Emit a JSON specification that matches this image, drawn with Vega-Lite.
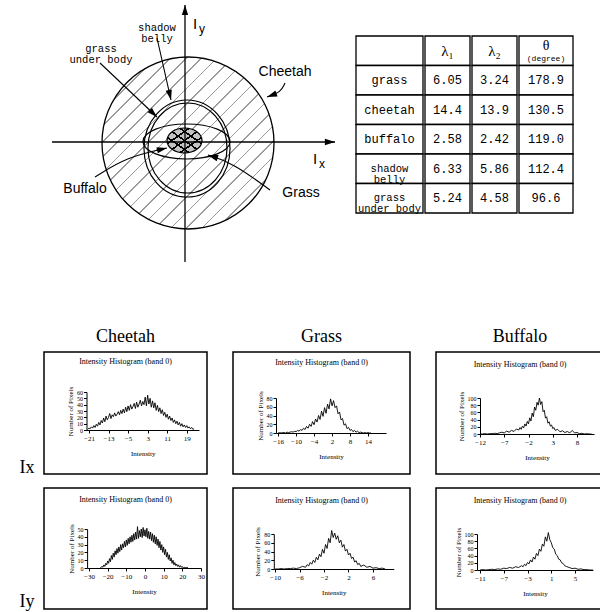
{
"$schema": "https://vega.github.io/schema/vega-lite/v6.json",
"background": "white",
"padding": 0,
"config": {
  "view": {"stroke": null},
  "axis": {"grid": false, "domainColor": "black", "tickColor": "black", "labelColor": "black", "titleColor": "black", "labelFont": "Liberation Serif", "titleFont": "Liberation Serif", "labelFontSize": 7, "titleFontSize": 7, "titleFontWeight": "normal", "tickSize": 3, "labelPadding": 1, "domainWidth": 1, "tickWidth": 1, "labelFlush": false, "labelOverlap": false, "labelBound": false},
  "axisY": {"labelFontSize": 6},
  "title": {"color": "black", "fontWeight": "normal", "font": "Liberation Serif"}
},
"datasets": {
  "cells": [
    {"row": "header", "col": "name", "label": ""},
    {"row": "header", "col": "l1", "label": "λ₁"},
    {"row": "header", "col": "l2", "label": "λ₂"},
    {"row": "header", "col": "theta", "label": "θ", "sub": "(degree)"},
    {"row": "grass", "col": "name", "label": "grass"},
    {"row": "grass", "col": "l1", "label": "6.05"},
    {"row": "grass", "col": "l2", "label": "3.24"},
    {"row": "grass", "col": "theta", "label": "178.9"},
    {"row": "cheetah", "col": "name", "label": "cheetah"},
    {"row": "cheetah", "col": "l1", "label": "14.4"},
    {"row": "cheetah", "col": "l2", "label": "13.9"},
    {"row": "cheetah", "col": "theta", "label": "130.5"},
    {"row": "buffalo", "col": "name", "label": "buffalo"},
    {"row": "buffalo", "col": "l1", "label": "2.58"},
    {"row": "buffalo", "col": "l2", "label": "2.42"},
    {"row": "buffalo", "col": "theta", "label": "119.0"},
    {"row": "shadow belly", "col": "name", "label": "shadow\nbelly"},
    {"row": "shadow belly", "col": "l1", "label": "6.33"},
    {"row": "shadow belly", "col": "l2", "label": "5.86"},
    {"row": "shadow belly", "col": "theta", "label": "112.4"},
    {"row": "grass under body", "col": "name", "label": "grass\nunder body"},
    {"row": "grass under body", "col": "l1", "label": "5.24"},
    {"row": "grass under body", "col": "l2", "label": "4.58"},
    {"row": "grass under body", "col": "theta", "label": "96.6"}
  ],
  "hc_x": [
    {"i":-21.5,"n":1},{"i":-21,"n":3},{"i":-20.5,"n":2},{"i":-20,"n":5},{"i":-19.5,"n":3},{"i":-19,"n":7},{"i":-18.5,"n":4},{"i":-18,"n":9},{"i":-17.5,"n":6},{"i":-17,"n":12},{"i":-16.5,"n":8},{"i":-16,"n":15},{"i":-15.5,"n":11},{"i":-15,"n":19},{"i":-14.5,"n":13},{"i":-14,"n":22},{"i":-13.5,"n":16},{"i":-13,"n":20},{"i":-12.5,"n":26},{"i":-12,"n":18},{"i":-11.5,"n":24},{"i":-11,"n":21},{"i":-10.5,"n":27},{"i":-10,"n":22},{"i":-9.5,"n":25},{"i":-9,"n":29},{"i":-8.5,"n":24},{"i":-8,"n":31},{"i":-7.5,"n":26},{"i":-7,"n":33},{"i":-6.5,"n":27},{"i":-6,"n":36},{"i":-5.5,"n":29},{"i":-5,"n":38},{"i":-4.5,"n":31},{"i":-4,"n":40},{"i":-3.5,"n":33},{"i":-3,"n":37},{"i":-2.5,"n":42},{"i":-2,"n":34},{"i":-1.5,"n":44},{"i":-1,"n":36},{"i":-0.5,"n":41},{"i":0,"n":47},{"i":0.5,"n":38},{"i":1,"n":45},{"i":1.5,"n":40},{"i":2,"n":52},{"i":2.5,"n":38},{"i":3,"n":55},{"i":3.5,"n":41},{"i":4,"n":50},{"i":4.5,"n":36},{"i":5,"n":46},{"i":5.5,"n":35},{"i":6,"n":43},{"i":6.5,"n":31},{"i":7,"n":39},{"i":7.5,"n":29},{"i":8,"n":35},{"i":8.5,"n":26},{"i":9,"n":32},{"i":9.5,"n":23},{"i":10,"n":28},{"i":10.5,"n":20},{"i":11,"n":25},{"i":11.5,"n":17},{"i":12,"n":22},{"i":12.5,"n":15},{"i":13,"n":19},{"i":13.5,"n":12},{"i":14,"n":16},{"i":14.5,"n":10},{"i":15,"n":14},{"i":15.5,"n":8},{"i":16,"n":12},{"i":16.5,"n":6},{"i":17,"n":10},{"i":17.5,"n":5},{"i":18,"n":8},{"i":18.5,"n":4},{"i":19,"n":7},{"i":19.5,"n":3},{"i":20,"n":5},{"i":20.5,"n":2},{"i":21,"n":4},{"i":21.5,"n":1},{"i":22,"n":2}
  ],
  "hg_x": [
    {"i":-16,"n":0},{"i":-15.5,"n":1},{"i":-15,"n":0},{"i":-14.5,"n":1},{"i":-14,"n":1},{"i":-13.5,"n":0},{"i":-13,"n":2},{"i":-12.5,"n":1},{"i":-12,"n":2},{"i":-11.5,"n":3},{"i":-11,"n":2},{"i":-10.5,"n":4},{"i":-10,"n":3},{"i":-9.5,"n":6},{"i":-9,"n":4},{"i":-8.5,"n":8},{"i":-8,"n":6},{"i":-7.5,"n":11},{"i":-7,"n":8},{"i":-6.5,"n":15},{"i":-6,"n":11},{"i":-5.5,"n":20},{"i":-5,"n":15},{"i":-4.5,"n":26},{"i":-4,"n":19},{"i":-3.5,"n":32},{"i":-3,"n":25},{"i":-2.5,"n":40},{"i":-2,"n":31},{"i":-1.5,"n":50},{"i":-1,"n":38},{"i":-0.5,"n":58},{"i":0,"n":45},{"i":0.5,"n":66},{"i":1,"n":55},{"i":1.5,"n":78},{"i":2,"n":62},{"i":2.5,"n":74},{"i":3,"n":58},{"i":3.5,"n":62},{"i":4,"n":44},{"i":4.5,"n":48},{"i":5,"n":30},{"i":5.5,"n":33},{"i":6,"n":18},{"i":6.5,"n":21},{"i":7,"n":10},{"i":7.5,"n":13},{"i":8,"n":6},{"i":8.5,"n":8},{"i":9,"n":3},{"i":9.5,"n":6},{"i":10,"n":2},{"i":10.5,"n":4},{"i":11,"n":1},{"i":11.5,"n":2},{"i":12,"n":1},{"i":12.5,"n":0},{"i":13,"n":1},{"i":13.5,"n":0},{"i":14,"n":1},{"i":14.5,"n":0},{"i":15,"n":0}
  ],
  "hb_x": [
    {"i":-12,"n":0},{"i":-11.5,"n":0},{"i":-11,"n":1},{"i":-10.5,"n":0},{"i":-10,"n":1},{"i":-9.5,"n":1},{"i":-9,"n":2},{"i":-8.5,"n":1},{"i":-8,"n":3},{"i":-7.5,"n":5},{"i":-7,"n":3},{"i":-6.5,"n":8},{"i":-6,"n":5},{"i":-5.5,"n":10},{"i":-5,"n":7},{"i":-4.5,"n":14},{"i":-4,"n":11},{"i":-3.75,"n":18},{"i":-3.5,"n":13},{"i":-3.25,"n":22},{"i":-3,"n":17},{"i":-2.75,"n":28},{"i":-2.5,"n":22},{"i":-2.25,"n":35},{"i":-2,"n":28},{"i":-1.75,"n":45},{"i":-1.5,"n":36},{"i":-1.25,"n":58},{"i":-1,"n":48},{"i":-0.75,"n":75},{"i":-0.5,"n":66},{"i":-0.25,"n":88},{"i":0,"n":80},{"i":0.25,"n":100},{"i":0.5,"n":82},{"i":0.75,"n":90},{"i":1,"n":62},{"i":1.25,"n":66},{"i":1.5,"n":44},{"i":1.75,"n":48},{"i":2,"n":30},{"i":2.25,"n":34},{"i":2.5,"n":22},{"i":2.75,"n":25},{"i":3,"n":15},{"i":3.25,"n":18},{"i":3.5,"n":10},{"i":4,"n":13},{"i":4.5,"n":6},{"i":5,"n":9},{"i":5.5,"n":4},{"i":6,"n":7},{"i":6.5,"n":3},{"i":7,"n":10},{"i":7.5,"n":3},{"i":8,"n":4},{"i":8.5,"n":1},{"i":9,"n":2},{"i":9.5,"n":0},{"i":10,"n":1},{"i":10.5,"n":0},{"i":11,"n":0}
  ],
  "hc_y": [
    {"i":-24,"n":0},{"i":-23.5,"n":1},{"i":-23,"n":2},{"i":-22.5,"n":1},{"i":-22,"n":4},{"i":-21.5,"n":2},{"i":-21,"n":6},{"i":-20.5,"n":4},{"i":-20,"n":9},{"i":-19.5,"n":6},{"i":-19,"n":12},{"i":-18.5,"n":8},{"i":-18,"n":16},{"i":-17.5,"n":11},{"i":-17,"n":19},{"i":-16.5,"n":14},{"i":-16,"n":22},{"i":-15.5,"n":17},{"i":-15,"n":25},{"i":-14.5,"n":19},{"i":-14,"n":27},{"i":-13.5,"n":21},{"i":-13,"n":30},{"i":-12.5,"n":23},{"i":-12,"n":31},{"i":-11.5,"n":26},{"i":-11,"n":34},{"i":-10.5,"n":27},{"i":-10,"n":36},{"i":-9.5,"n":29},{"i":-9,"n":38},{"i":-8.5,"n":31},{"i":-8,"n":40},{"i":-7.5,"n":33},{"i":-7,"n":42},{"i":-6.5,"n":34},{"i":-6,"n":44},{"i":-5.5,"n":36},{"i":-5,"n":46},{"i":-4.5,"n":37},{"i":-4,"n":53},{"i":-3.5,"n":38},{"i":-3,"n":48},{"i":-2.5,"n":40},{"i":-2,"n":50},{"i":-1.5,"n":39},{"i":-1,"n":52},{"i":-0.5,"n":41},{"i":0,"n":49},{"i":0.5,"n":40},{"i":1,"n":51},{"i":1.5,"n":38},{"i":2,"n":47},{"i":2.5,"n":37},{"i":3,"n":46},{"i":3.5,"n":35},{"i":4,"n":44},{"i":4.5,"n":33},{"i":5,"n":42},{"i":5.5,"n":31},{"i":6,"n":40},{"i":6.5,"n":29},{"i":7,"n":37},{"i":7.5,"n":26},{"i":8,"n":34},{"i":8.5,"n":23},{"i":9,"n":30},{"i":9.5,"n":20},{"i":10,"n":27},{"i":10.5,"n":17},{"i":11,"n":24},{"i":11.5,"n":14},{"i":12,"n":20},{"i":12.5,"n":11},{"i":13,"n":17},{"i":13.5,"n":9},{"i":14,"n":13},{"i":14.5,"n":6},{"i":15,"n":10},{"i":15.5,"n":4},{"i":16,"n":7},{"i":16.5,"n":3},{"i":17,"n":5},{"i":17.5,"n":2},{"i":18,"n":4},{"i":18.5,"n":1},{"i":19,"n":3},{"i":19.5,"n":1},{"i":20,"n":2},{"i":20.5,"n":0},{"i":21,"n":1},{"i":21.5,"n":0},{"i":22,"n":1},{"i":22.5,"n":0},{"i":23,"n":1}
  ],
  "hg_y": [
    {"i":-10,"n":0},{"i":-9.5,"n":0},{"i":-9,"n":1},{"i":-8.5,"n":0},{"i":-8,"n":1},{"i":-7.5,"n":1},{"i":-7,"n":2},{"i":-6.5,"n":1},{"i":-6,"n":3},{"i":-5.5,"n":6},{"i":-5,"n":4},{"i":-4.75,"n":10},{"i":-4.5,"n":7},{"i":-4.25,"n":15},{"i":-4,"n":11},{"i":-3.75,"n":20},{"i":-3.5,"n":15},{"i":-3.25,"n":27},{"i":-3,"n":21},{"i":-2.75,"n":34},{"i":-2.5,"n":28},{"i":-2.25,"n":45},{"i":-2,"n":36},{"i":-1.75,"n":56},{"i":-1.5,"n":47},{"i":-1.25,"n":70},{"i":-1,"n":60},{"i":-0.75,"n":88},{"i":-0.5,"n":72},{"i":-0.25,"n":82},{"i":0,"n":68},{"i":0.25,"n":76},{"i":0.5,"n":60},{"i":0.75,"n":66},{"i":1,"n":50},{"i":1.25,"n":56},{"i":1.5,"n":41},{"i":1.75,"n":45},{"i":2,"n":32},{"i":2.25,"n":36},{"i":2.5,"n":24},{"i":2.75,"n":27},{"i":3,"n":16},{"i":3.25,"n":19},{"i":3.5,"n":10},{"i":3.75,"n":13},{"i":4,"n":6},{"i":4.5,"n":9},{"i":5,"n":4},{"i":5.5,"n":6},{"i":6,"n":2},{"i":6.5,"n":3},{"i":7,"n":1},{"i":7.5,"n":2},{"i":8,"n":0}
  ],
  "hb_y": [
    {"i":-11,"n":0},{"i":-10.5,"n":1},{"i":-10,"n":0},{"i":-9.5,"n":1},{"i":-9,"n":2},{"i":-8.5,"n":1},{"i":-8,"n":3},{"i":-7.5,"n":2},{"i":-7,"n":5},{"i":-6.5,"n":4},{"i":-6,"n":7},{"i":-5.5,"n":5},{"i":-5,"n":9},{"i":-4.5,"n":7},{"i":-4,"n":12},{"i":-3.75,"n":9},{"i":-3.5,"n":16},{"i":-3.25,"n":12},{"i":-3,"n":21},{"i":-2.75,"n":17},{"i":-2.5,"n":28},{"i":-2.25,"n":22},{"i":-2,"n":36},{"i":-1.75,"n":30},{"i":-1.5,"n":46},{"i":-1.25,"n":40},{"i":-1,"n":58},{"i":-0.75,"n":52},{"i":-0.5,"n":72},{"i":-0.25,"n":66},{"i":0,"n":92},{"i":0.25,"n":80},{"i":0.5,"n":104},{"i":0.75,"n":84},{"i":1,"n":76},{"i":1.25,"n":62},{"i":1.5,"n":58},{"i":1.75,"n":44},{"i":2,"n":40},{"i":2.25,"n":30},{"i":2.5,"n":28},{"i":2.75,"n":20},{"i":3,"n":18},{"i":3.25,"n":12},{"i":3.5,"n":10},{"i":4,"n":7},{"i":4.5,"n":4},{"i":5,"n":5},{"i":5.5,"n":2},{"i":6,"n":3},{"i":6.5,"n":1},{"i":7,"n":1},{"i":7.5,"n":0},{"i":8,"n":0}
  ]
},
"spacing": 58,
"vconcat": [
  {"spacing": 0, "hconcat": [
    {
      "width": 355, "height": 270,
      "view": {"stroke": null},
      "encoding": {
        "x": {"field": "x", "type": "quantitative", "scale": {"domain": [-185, 170], "nice": false, "zero": false}, "axis": null},
        "y": {"field": "y", "type": "quantitative", "scale": {"domain": [-128, 142], "nice": false, "zero": false}, "axis": null}
      },
      "layer": [
        {
          "data": {"values": [{"name": "cheetah", "x": 3, "y": -1, "r": 86}]},
          "mark": {"type": "point", "shape": "circle", "filled": true, "opacity": 1, "stroke": "black", "strokeWidth": 1.3,
            "fill": {"gradient": "linear", "x1": 0, "y1": 0, "x2": 1, "y2": 1, "stops": [
              {"offset": 0, "color": "white"},
              {"offset": 0.02, "color": "white"}, {"offset": 0.02, "color": "#9a9a9a"}, {"offset": 0.025, "color": "#9a9a9a"}, {"offset": 0.025, "color": "white"},
              {"offset": 0.065, "color": "white"}, {"offset": 0.065, "color": "#9a9a9a"}, {"offset": 0.07, "color": "#9a9a9a"}, {"offset": 0.07, "color": "white"},
              {"offset": 0.11, "color": "white"}, {"offset": 0.11, "color": "#9a9a9a"}, {"offset": 0.115, "color": "#9a9a9a"}, {"offset": 0.115, "color": "white"},
              {"offset": 0.155, "color": "white"}, {"offset": 0.155, "color": "#9a9a9a"}, {"offset": 0.16, "color": "#9a9a9a"}, {"offset": 0.16, "color": "white"},
              {"offset": 0.2, "color": "white"}, {"offset": 0.2, "color": "#9a9a9a"}, {"offset": 0.205, "color": "#9a9a9a"}, {"offset": 0.205, "color": "white"},
              {"offset": 0.245, "color": "white"}, {"offset": 0.245, "color": "#9a9a9a"}, {"offset": 0.25, "color": "#9a9a9a"}, {"offset": 0.25, "color": "white"},
              {"offset": 0.29, "color": "white"}, {"offset": 0.29, "color": "#9a9a9a"}, {"offset": 0.295, "color": "#9a9a9a"}, {"offset": 0.295, "color": "white"},
              {"offset": 0.335, "color": "white"}, {"offset": 0.335, "color": "#9a9a9a"}, {"offset": 0.34, "color": "#9a9a9a"}, {"offset": 0.34, "color": "white"},
              {"offset": 0.38, "color": "white"}, {"offset": 0.38, "color": "#9a9a9a"}, {"offset": 0.385, "color": "#9a9a9a"}, {"offset": 0.385, "color": "white"},
              {"offset": 0.425, "color": "white"}, {"offset": 0.425, "color": "#9a9a9a"}, {"offset": 0.43, "color": "#9a9a9a"}, {"offset": 0.43, "color": "white"},
              {"offset": 0.47, "color": "white"}, {"offset": 0.47, "color": "#9a9a9a"}, {"offset": 0.475, "color": "#9a9a9a"}, {"offset": 0.475, "color": "white"},
              {"offset": 0.515, "color": "white"}, {"offset": 0.515, "color": "#9a9a9a"}, {"offset": 0.52, "color": "#9a9a9a"}, {"offset": 0.52, "color": "white"},
              {"offset": 0.56, "color": "white"}, {"offset": 0.56, "color": "#9a9a9a"}, {"offset": 0.565, "color": "#9a9a9a"}, {"offset": 0.565, "color": "white"},
              {"offset": 0.605, "color": "white"}, {"offset": 0.605, "color": "#9a9a9a"}, {"offset": 0.61, "color": "#9a9a9a"}, {"offset": 0.61, "color": "white"},
              {"offset": 0.65, "color": "white"}, {"offset": 0.65, "color": "#9a9a9a"}, {"offset": 0.655, "color": "#9a9a9a"}, {"offset": 0.655, "color": "white"},
              {"offset": 0.695, "color": "white"}, {"offset": 0.695, "color": "#9a9a9a"}, {"offset": 0.7, "color": "#9a9a9a"}, {"offset": 0.7, "color": "white"},
              {"offset": 0.74, "color": "white"}, {"offset": 0.74, "color": "#9a9a9a"}, {"offset": 0.745, "color": "#9a9a9a"}, {"offset": 0.745, "color": "white"},
              {"offset": 0.785, "color": "white"}, {"offset": 0.785, "color": "#9a9a9a"}, {"offset": 0.79, "color": "#9a9a9a"}, {"offset": 0.79, "color": "white"},
              {"offset": 0.83, "color": "white"}, {"offset": 0.83, "color": "#9a9a9a"}, {"offset": 0.835, "color": "#9a9a9a"}, {"offset": 0.835, "color": "white"},
              {"offset": 0.875, "color": "white"}, {"offset": 0.875, "color": "#9a9a9a"}, {"offset": 0.88, "color": "#9a9a9a"}, {"offset": 0.88, "color": "white"},
              {"offset": 0.92, "color": "white"}, {"offset": 0.92, "color": "#9a9a9a"}, {"offset": 0.925, "color": "#9a9a9a"}, {"offset": 0.925, "color": "white"},
              {"offset": 0.965, "color": "white"}, {"offset": 0.965, "color": "#9a9a9a"}, {"offset": 0.97, "color": "#9a9a9a"}, {"offset": 0.97, "color": "white"},
              {"offset": 1, "color": "white"}
            ]}},
          "encoding": {"size": {"field": "r", "type": "quantitative", "scale": {"type": "pow", "exponent": 2, "domain": [0, 100], "range": [0, 40000]}, "legend": null}}
        },
        {
          "data": {"values": [{"name": "shadow belly", "x": 2, "y": -6.5, "r": 48.5}]},
          "mark": {"type": "point", "shape": "M0,-1A0.887,1,0,0,1,0,1A0.887,1,0,0,1,0,-1Z", "filled": false, "opacity": 1, "stroke": "black", "strokeWidth": 1.2},
          "encoding": {"size": {"field": "r", "type": "quantitative", "scale": {"type": "pow", "exponent": 2, "domain": [0, 100], "range": [0, 40000]}, "legend": null}}
        },
        {
          "data": {"values": [{"name": "grass under body", "x": 2.5, "y": -6, "r": 45}]},
          "mark": {"type": "point", "shape": "M0,-1A0.878,1,0,0,1,0,1A0.878,1,0,0,1,0,-1Z", "filled": false, "opacity": 1, "stroke": "black", "strokeWidth": 1.2},
          "encoding": {"size": {"field": "r", "type": "quantitative", "scale": {"type": "pow", "exponent": 2, "domain": [0, 100], "range": [0, 40000]}, "legend": null}}
        },
        {
          "data": {"values": [{"name": "grass", "x": 1.5, "y": 0.5, "r": 43.5}]},
          "mark": {"type": "point", "shape": "M-1,0A1,0.402,0,0,1,1,0A1,0.402,0,0,1,-1,0Z", "filled": false, "opacity": 1, "stroke": "black", "strokeWidth": 1.2},
          "encoding": {"size": {"field": "r", "type": "quantitative", "scale": {"type": "pow", "exponent": 2, "domain": [0, 100], "range": [0, 40000]}, "legend": null}}
        },
        {
          "data": {"values": [{"name": "buffalo", "x": -0.5, "y": 1.5, "r": 17.5}]},
          "mark": {"type": "point", "shape": "M-1,0A1,0.714,0,0,1,1,0A1,0.714,0,0,1,-1,0Z", "filled": true, "opacity": 1, "fill": "#c4c4c4", "stroke": "black", "strokeWidth": 1.2},
          "encoding": {"size": {"field": "r", "type": "quantitative", "scale": {"type": "pow", "exponent": 2, "domain": [0, 100], "range": [0, 40000]}, "legend": null}}
        },
        {
          "data": {"values": [{"name": "buffalo", "x": -0.5, "y": 1.5, "r": 17.5}]},
          "mark": {"type": "point", "shape": "M-1,0A1,0.714,0,0,1,1,0A1,0.714,0,0,1,-1,0Z", "filled": true, "opacity": 1, "strokeWidth": 0,
            "fill": {"gradient": "linear", "x1": 0, "y1": 0, "x2": 1, "y2": 1, "stops": [
              {"offset": 0, "color": "transparent"},
              {"offset": 0.12, "color": "transparent"}, {"offset": 0.12, "color": "black"}, {"offset": 0.16, "color": "black"}, {"offset": 0.16, "color": "transparent"},
              {"offset": 0.3, "color": "transparent"}, {"offset": 0.3, "color": "black"}, {"offset": 0.34, "color": "black"}, {"offset": 0.34, "color": "transparent"},
              {"offset": 0.48, "color": "transparent"}, {"offset": 0.48, "color": "black"}, {"offset": 0.52, "color": "black"}, {"offset": 0.52, "color": "transparent"},
              {"offset": 0.66, "color": "transparent"}, {"offset": 0.66, "color": "black"}, {"offset": 0.7, "color": "black"}, {"offset": 0.7, "color": "transparent"},
              {"offset": 0.84, "color": "transparent"}, {"offset": 0.84, "color": "black"}, {"offset": 0.88, "color": "black"}, {"offset": 0.88, "color": "transparent"},
              {"offset": 1, "color": "transparent"}
            ]}},
          "encoding": {"size": {"field": "r", "type": "quantitative", "scale": {"type": "pow", "exponent": 2, "domain": [0, 100], "range": [0, 40000]}, "legend": null}}
        },
        {
          "data": {"values": [{"name": "buffalo", "x": -0.5, "y": 1.5, "r": 17.5}]},
          "mark": {"type": "point", "shape": "M-1,0A1,0.714,0,0,1,1,0A1,0.714,0,0,1,-1,0Z", "filled": true, "opacity": 1, "strokeWidth": 0,
            "fill": {"gradient": "linear", "x1": 1, "y1": 0, "x2": 0, "y2": 1, "stops": [
              {"offset": 0, "color": "transparent"},
              {"offset": 0.12, "color": "transparent"}, {"offset": 0.12, "color": "black"}, {"offset": 0.16, "color": "black"}, {"offset": 0.16, "color": "transparent"},
              {"offset": 0.3, "color": "transparent"}, {"offset": 0.3, "color": "black"}, {"offset": 0.34, "color": "black"}, {"offset": 0.34, "color": "transparent"},
              {"offset": 0.48, "color": "transparent"}, {"offset": 0.48, "color": "black"}, {"offset": 0.52, "color": "black"}, {"offset": 0.52, "color": "transparent"},
              {"offset": 0.66, "color": "transparent"}, {"offset": 0.66, "color": "black"}, {"offset": 0.7, "color": "black"}, {"offset": 0.7, "color": "transparent"},
              {"offset": 0.84, "color": "transparent"}, {"offset": 0.84, "color": "black"}, {"offset": 0.88, "color": "black"}, {"offset": 0.88, "color": "transparent"},
              {"offset": 1, "color": "transparent"}
            ]}},
          "encoding": {"size": {"field": "r", "type": "quantitative", "scale": {"type": "pow", "exponent": 2, "domain": [0, 100], "range": [0, 40000]}, "legend": null}}
        },
        {
          "data": {"values": [{"x": -133, "y": 0, "x2": 150, "y2": 0}, {"x": 0, "y": -120, "x2": 0, "y2": 137}]},
          "mark": {"type": "rule", "color": "black", "strokeWidth": 1.3},
          "encoding": {"x2": {"field": "x2"}, "y2": {"field": "y2"}}
        },
        {
          "data": {"values": [
            {"arrow": "sb", "k": 0, "x": -28, "y": 104}, {"arrow": "sb", "k": 1, "x": -14, "y": 42},
            {"arrow": "gu", "k": 0, "x": -85, "y": 79}, {"arrow": "gu", "k": 1, "x": -28, "y": 25},
            {"arrow": "ch", "k": 0, "x": 100, "y": 59}, {"arrow": "ch", "k": 1, "x": 96, "y": 50}, {"arrow": "ch", "k": 2, "x": 82, "y": 45},
            {"arrow": "bu", "k": 0, "x": -90, "y": -35}, {"arrow": "bu", "k": 1, "x": -58, "y": -15}, {"arrow": "bu", "k": 2, "x": -18, "y": -6},
            {"arrow": "gr", "k": 0, "x": 85, "y": -48}, {"arrow": "gr", "k": 1, "x": 48, "y": -21}, {"arrow": "gr", "k": 2, "x": 23, "y": -13}
          ]},
          "mark": {"type": "line", "color": "black", "strokeWidth": 1.1, "interpolate": "basis"},
          "encoding": {"detail": {"field": "arrow", "type": "nominal"}, "order": {"field": "k", "type": "quantitative"}}
        },
        {
          "data": {"values": [
            {"x": 150, "y": 0, "heading": 90}, {"x": 0, "y": 137, "heading": 0},
            {"x": -14, "y": 42, "heading": 167}, {"x": -28, "y": 25, "heading": 134},
            {"x": 82, "y": 45, "heading": 250}, {"x": -18, "y": -6, "heading": 77}, {"x": 23, "y": -13, "heading": 288}
          ]},
          "mark": {"type": "point", "shape": "M0,0L0.5,1.6L-0.5,1.6Z", "size": 160, "filled": true, "opacity": 1, "color": "black"},
          "encoding": {"angle": {"field": "heading", "type": "quantitative", "scale": null}}
        },
        {
          "data": {"values": [{"label": "Cheetah", "x": 100, "y": 70}, {"label": "Buffalo", "x": -100, "y": -47}, {"label": "Grass", "x": 116, "y": -51}]},
          "mark": {"type": "text", "font": "Liberation Sans", "fontSize": 14, "color": "black"},
          "encoding": {"text": {"field": "label"}}
        },
        {
          "data": {"values": [{"label": "I", "x": 10, "y": 118}, {"label": "I", "x": 130, "y": -17}]},
          "mark": {"type": "text", "font": "Liberation Sans", "fontSize": 15, "color": "black"},
          "encoding": {"text": {"field": "label"}}
        },
        {
          "data": {"values": [{"label": "y", "x": 17, "y": 113}, {"label": "x", "x": 137, "y": -22}]},
          "mark": {"type": "text", "font": "Liberation Sans", "fontSize": 12, "color": "black"},
          "encoding": {"text": {"field": "label"}}
        },
        {
          "data": {"values": [{"label": "shadow\nbelly", "x": -28, "y": 114}, {"label": "grass\nunder body", "x": -84, "y": 93}]},
          "mark": {"type": "text", "font": "Liberation Mono", "fontSize": 10.5, "lineBreak": "\n", "lineHeight": 11, "color": "black"},
          "encoding": {"text": {"field": "label"}}
        }
      ]
    },
    {
      "width": 67, "height": 213, "view": {"stroke": null},
      "data": {"name": "cells"},
      "transform": [{"filter": "datum.col == 'name'"}],
      "encoding": {
        "x": {"field": "col", "type": "nominal", "axis": null, "scale": {"paddingInner": 0, "paddingOuter": 0}},
        "y": {"field": "row", "type": "nominal", "axis": null, "scale": {"domain": ["header", "grass", "cheetah", "buffalo", "shadow belly", "grass under body"], "range": [36, 213], "paddingInner": 0, "paddingOuter": 0}}
      },
      "layer": [
        {"mark": {"type": "rect", "fill": "white", "stroke": "black", "strokeWidth": 1.3}},
        {"transform": [{"filter": "datum.row == 'grass' || datum.row == 'cheetah' || datum.row == 'buffalo'"}], "mark": {"type": "text", "font": "Liberation Mono", "fontSize": 12, "color": "black"}, "encoding": {"text": {"field": "label"}}},
        {"transform": [{"filter": "datum.row == 'shadow belly' || datum.row == 'grass under body'"}], "mark": {"type": "text", "font": "Liberation Mono", "fontSize": 10.5, "lineBreak": "\n", "lineHeight": 11, "color": "black"}, "encoding": {"text": {"field": "label"}}}
      ]
    },
    {
      "width": 45, "height": 213, "view": {"stroke": null},
      "data": {"name": "cells"},
      "transform": [{"filter": "datum.col == 'l1'"}],
      "encoding": {
        "x": {"field": "col", "type": "nominal", "axis": null, "scale": {"paddingInner": 0, "paddingOuter": 0}},
        "y": {"field": "row", "type": "nominal", "axis": null, "scale": {"domain": ["header", "grass", "cheetah", "buffalo", "shadow belly", "grass under body"], "range": [36, 213], "paddingInner": 0, "paddingOuter": 0}}
      },
      "layer": [
        {"mark": {"type": "rect", "fill": "white", "stroke": "black", "strokeWidth": 1.3}},
        {"transform": [{"filter": "datum.row != 'header'"}], "mark": {"type": "text", "font": "Liberation Mono", "fontSize": 12, "color": "black"}, "encoding": {"text": {"field": "label"}}},
        {"transform": [{"filter": "datum.row == 'header'"}], "mark": {"type": "text", "font": "Liberation Serif", "fontSize": 15, "color": "black"}, "encoding": {"text": {"field": "label"}}}
      ]
    },
    {
      "width": 45, "height": 213, "view": {"stroke": null},
      "data": {"name": "cells"},
      "transform": [{"filter": "datum.col == 'l2'"}],
      "encoding": {
        "x": {"field": "col", "type": "nominal", "axis": null, "scale": {"paddingInner": 0, "paddingOuter": 0}},
        "y": {"field": "row", "type": "nominal", "axis": null, "scale": {"domain": ["header", "grass", "cheetah", "buffalo", "shadow belly", "grass under body"], "range": [36, 213], "paddingInner": 0, "paddingOuter": 0}}
      },
      "layer": [
        {"mark": {"type": "rect", "fill": "white", "stroke": "black", "strokeWidth": 1.3}},
        {"transform": [{"filter": "datum.row != 'header'"}], "mark": {"type": "text", "font": "Liberation Mono", "fontSize": 12, "color": "black"}, "encoding": {"text": {"field": "label"}}},
        {"transform": [{"filter": "datum.row == 'header'"}], "mark": {"type": "text", "font": "Liberation Serif", "fontSize": 15, "color": "black"}, "encoding": {"text": {"field": "label"}}}
      ]
    },
    {
      "width": 54, "height": 213, "view": {"stroke": null},
      "data": {"name": "cells"},
      "transform": [{"filter": "datum.col == 'theta'"}],
      "encoding": {
        "x": {"field": "col", "type": "nominal", "axis": null, "scale": {"paddingInner": 0, "paddingOuter": 0}},
        "y": {"field": "row", "type": "nominal", "axis": null, "scale": {"domain": ["header", "grass", "cheetah", "buffalo", "shadow belly", "grass under body"], "range": [36, 213], "paddingInner": 0, "paddingOuter": 0}}
      },
      "layer": [
        {"mark": {"type": "rect", "fill": "white", "stroke": "black", "strokeWidth": 1.3}},
        {"transform": [{"filter": "datum.row != 'header'"}], "mark": {"type": "text", "font": "Liberation Mono", "fontSize": 12, "color": "black"}, "encoding": {"text": {"field": "label"}}},
        {"transform": [{"filter": "datum.row == 'header'"}], "mark": {"type": "text", "font": "Liberation Serif", "fontSize": 14, "dy": -5, "color": "black"}, "encoding": {"text": {"field": "label"}}},
        {"transform": [{"filter": "datum.row == 'header'"}], "mark": {"type": "text", "font": "Liberation Mono", "fontSize": 8, "dy": 8, "color": "black"}, "encoding": {"text": {"field": "sub"}}}
      ]
    }
  ]},
  {"spacing": 3, "hconcat": [
    {
      "width": 40, "height": 280, "view": {"stroke": null},
      "data": {"values": [{"label": "Ix", "row": "top"}, {"label": "Iy", "row": "bottom"}]},
      "layer": [
        {"transform": [{"filter": "datum.row == 'top'"}], "mark": {"type": "text", "font": "Liberation Serif", "fontSize": 18, "dx": 7, "dy": -24, "color": "black"}, "encoding": {"text": {"field": "label"}}},
        {"transform": [{"filter": "datum.row == 'bottom'"}], "mark": {"type": "text", "font": "Liberation Serif", "fontSize": 18, "dx": 7, "dy": 110, "color": "black"}, "encoding": {"text": {"field": "label"}}}
      ]
    },
    {"spacing": 24, "hconcat": [
      {"title": {"text": "Cheetah", "anchor": "middle", "fontSize": 18, "offset": 5}, "spacing": 12, "vconcat": [
        {
          "width": 163, "height": 122, "view": {"stroke": "black", "strokeWidth": 1.5},
          "title": {"text": "Intensity Histogram (band 0)", "fontSize": 8, "offset": -18, "anchor": "middle", "baseline": "middle"},
          "data": {"name": "hc_x"},
          "mark": {"type": "line", "color": "black", "strokeWidth": 0.9},
          "encoding": {
            "x": {"field": "i", "type": "quantitative", "scale": {"domain": [-22, 24], "range": [42.5, 155], "nice": false, "zero": false}, "axis": {"values": [-21, -13, -5, 3, 11, 19], "offset": -44, "title": "Intensity", "titlePadding": 8}},
            "y": {"field": "n", "type": "quantitative", "scale": {"domain": [0, 60], "range": [78, 40], "nice": false, "zero": false}, "axis": {"values": [0, 10, 20, 30, 40, 50, 60], "offset": -42.5, "title": "Number of Pixels", "titlePadding": 3}}
          }
        },
        {
          "width": 163, "height": 121, "view": {"stroke": "black", "strokeWidth": 1.5},
          "title": {"text": "Intensity Histogram (band 0)", "fontSize": 8, "offset": -20, "anchor": "middle", "baseline": "middle"},
          "data": {"name": "hc_y"},
          "mark": {"type": "line", "color": "black", "strokeWidth": 0.9},
          "encoding": {
            "x": {"field": "i", "type": "quantitative", "scale": {"domain": [-31, 30], "range": [43.1, 157], "nice": false, "zero": false}, "axis": {"values": [-30, -20, -10, 0, 10, 20, 30], "offset": -41, "title": "Intensity", "titlePadding": 8}},
            "y": {"field": "n", "type": "quantitative", "scale": {"domain": [0, 50], "range": [80, 41], "nice": false, "zero": false}, "axis": {"values": [0, 10, 20, 30, 40, 50], "offset": -43.1, "title": "Number of Pixels", "titlePadding": 3}}
          }
        }
      ]},
      {"title": {"text": "Grass", "anchor": "middle", "fontSize": 18, "offset": 5}, "spacing": 12, "vconcat": [
        {
          "width": 177, "height": 122, "view": {"stroke": "black", "strokeWidth": 1.5},
          "title": {"text": "Intensity Histogram (band 0)", "fontSize": 8, "offset": -19, "anchor": "middle", "baseline": "middle"},
          "data": {"name": "hg_x"},
          "mark": {"type": "line", "color": "black", "strokeWidth": 0.9},
          "encoding": {
            "x": {"field": "i", "type": "quantitative", "scale": {"domain": [-16.7, 20], "range": [43, 153], "nice": false, "zero": false}, "axis": {"values": [-16, -10, -4, 2, 8, 14], "offset": -41, "title": "Intensity", "titlePadding": 8}},
            "y": {"field": "n", "type": "quantitative", "scale": {"domain": [0, 80], "range": [81, 46], "nice": false, "zero": false}, "axis": {"values": [0, 20, 40, 60, 80], "offset": -43, "title": "Number of Pixels", "titlePadding": 3}}
          }
        },
        {
          "width": 177, "height": 121, "view": {"stroke": "black", "strokeWidth": 1.5},
          "title": {"text": "Intensity Histogram (band 0)", "fontSize": 8, "offset": -21, "anchor": "middle", "baseline": "middle"},
          "data": {"name": "hg_y"},
          "mark": {"type": "line", "color": "black", "strokeWidth": 0.9},
          "encoding": {
            "x": {"field": "i", "type": "quantitative", "scale": {"domain": [-10.2, 9.4], "range": [40.8, 160.8], "nice": false, "zero": false}, "axis": {"values": [-10, -6, -2, 2, 6], "offset": -40, "title": "Intensity", "titlePadding": 8}},
            "y": {"field": "n", "type": "quantitative", "scale": {"domain": [0, 80], "range": [81, 46], "nice": false, "zero": false}, "axis": {"values": [0, 20, 40, 60, 80], "offset": -40.8, "title": "Number of Pixels", "titlePadding": 3}}
          }
        }
      ]},
      {"title": {"text": "Buffalo", "anchor": "middle", "fontSize": 18, "offset": 5}, "spacing": 12, "vconcat": [
        {
          "width": 168, "height": 122, "view": {"stroke": "black", "strokeWidth": 1.5},
          "title": {"text": "Intensity Histogram (band 0)", "fontSize": 8, "offset": -21, "anchor": "middle", "baseline": "middle"},
          "data": {"name": "hb_x"},
          "mark": {"type": "line", "color": "black", "strokeWidth": 0.9},
          "encoding": {
            "x": {"field": "i", "type": "quantitative", "scale": {"domain": [-12, 11.5], "range": [44, 158], "nice": false, "zero": false}, "axis": {"values": [-12, -7, -2, 3, 8], "offset": -40, "title": "Intensity", "titlePadding": 8}},
            "y": {"field": "n", "type": "quantitative", "scale": {"domain": [0, 100], "range": [82, 46], "nice": false, "zero": false}, "axis": {"values": [0, 20, 40, 60, 80, 100], "offset": -44, "title": "Number of Pixels", "titlePadding": 3}}
          }
        },
        {
          "width": 168, "height": 121, "view": {"stroke": "black", "strokeWidth": 1.5},
          "title": {"text": "Intensity Histogram (band 0)", "fontSize": 8, "offset": -21, "anchor": "middle", "baseline": "middle"},
          "data": {"name": "hb_y"},
          "mark": {"type": "line", "color": "black", "strokeWidth": 0.9},
          "encoding": {
            "x": {"field": "i", "type": "quantitative", "scale": {"domain": [-11.5, 8], "range": [41, 156.9], "nice": false, "zero": false}, "axis": {"values": [-11, -7, -3, 1, 5], "offset": -39, "title": "Intensity", "titlePadding": 8}},
            "y": {"field": "n", "type": "quantitative", "scale": {"domain": [0, 100], "range": [82, 46], "nice": false, "zero": false}, "axis": {"values": [0, 20, 40, 60, 80, 100], "offset": -41, "title": "Number of Pixels", "titlePadding": 3}}
          }
        }
      ]}
    ]}
  ]}
]
}
